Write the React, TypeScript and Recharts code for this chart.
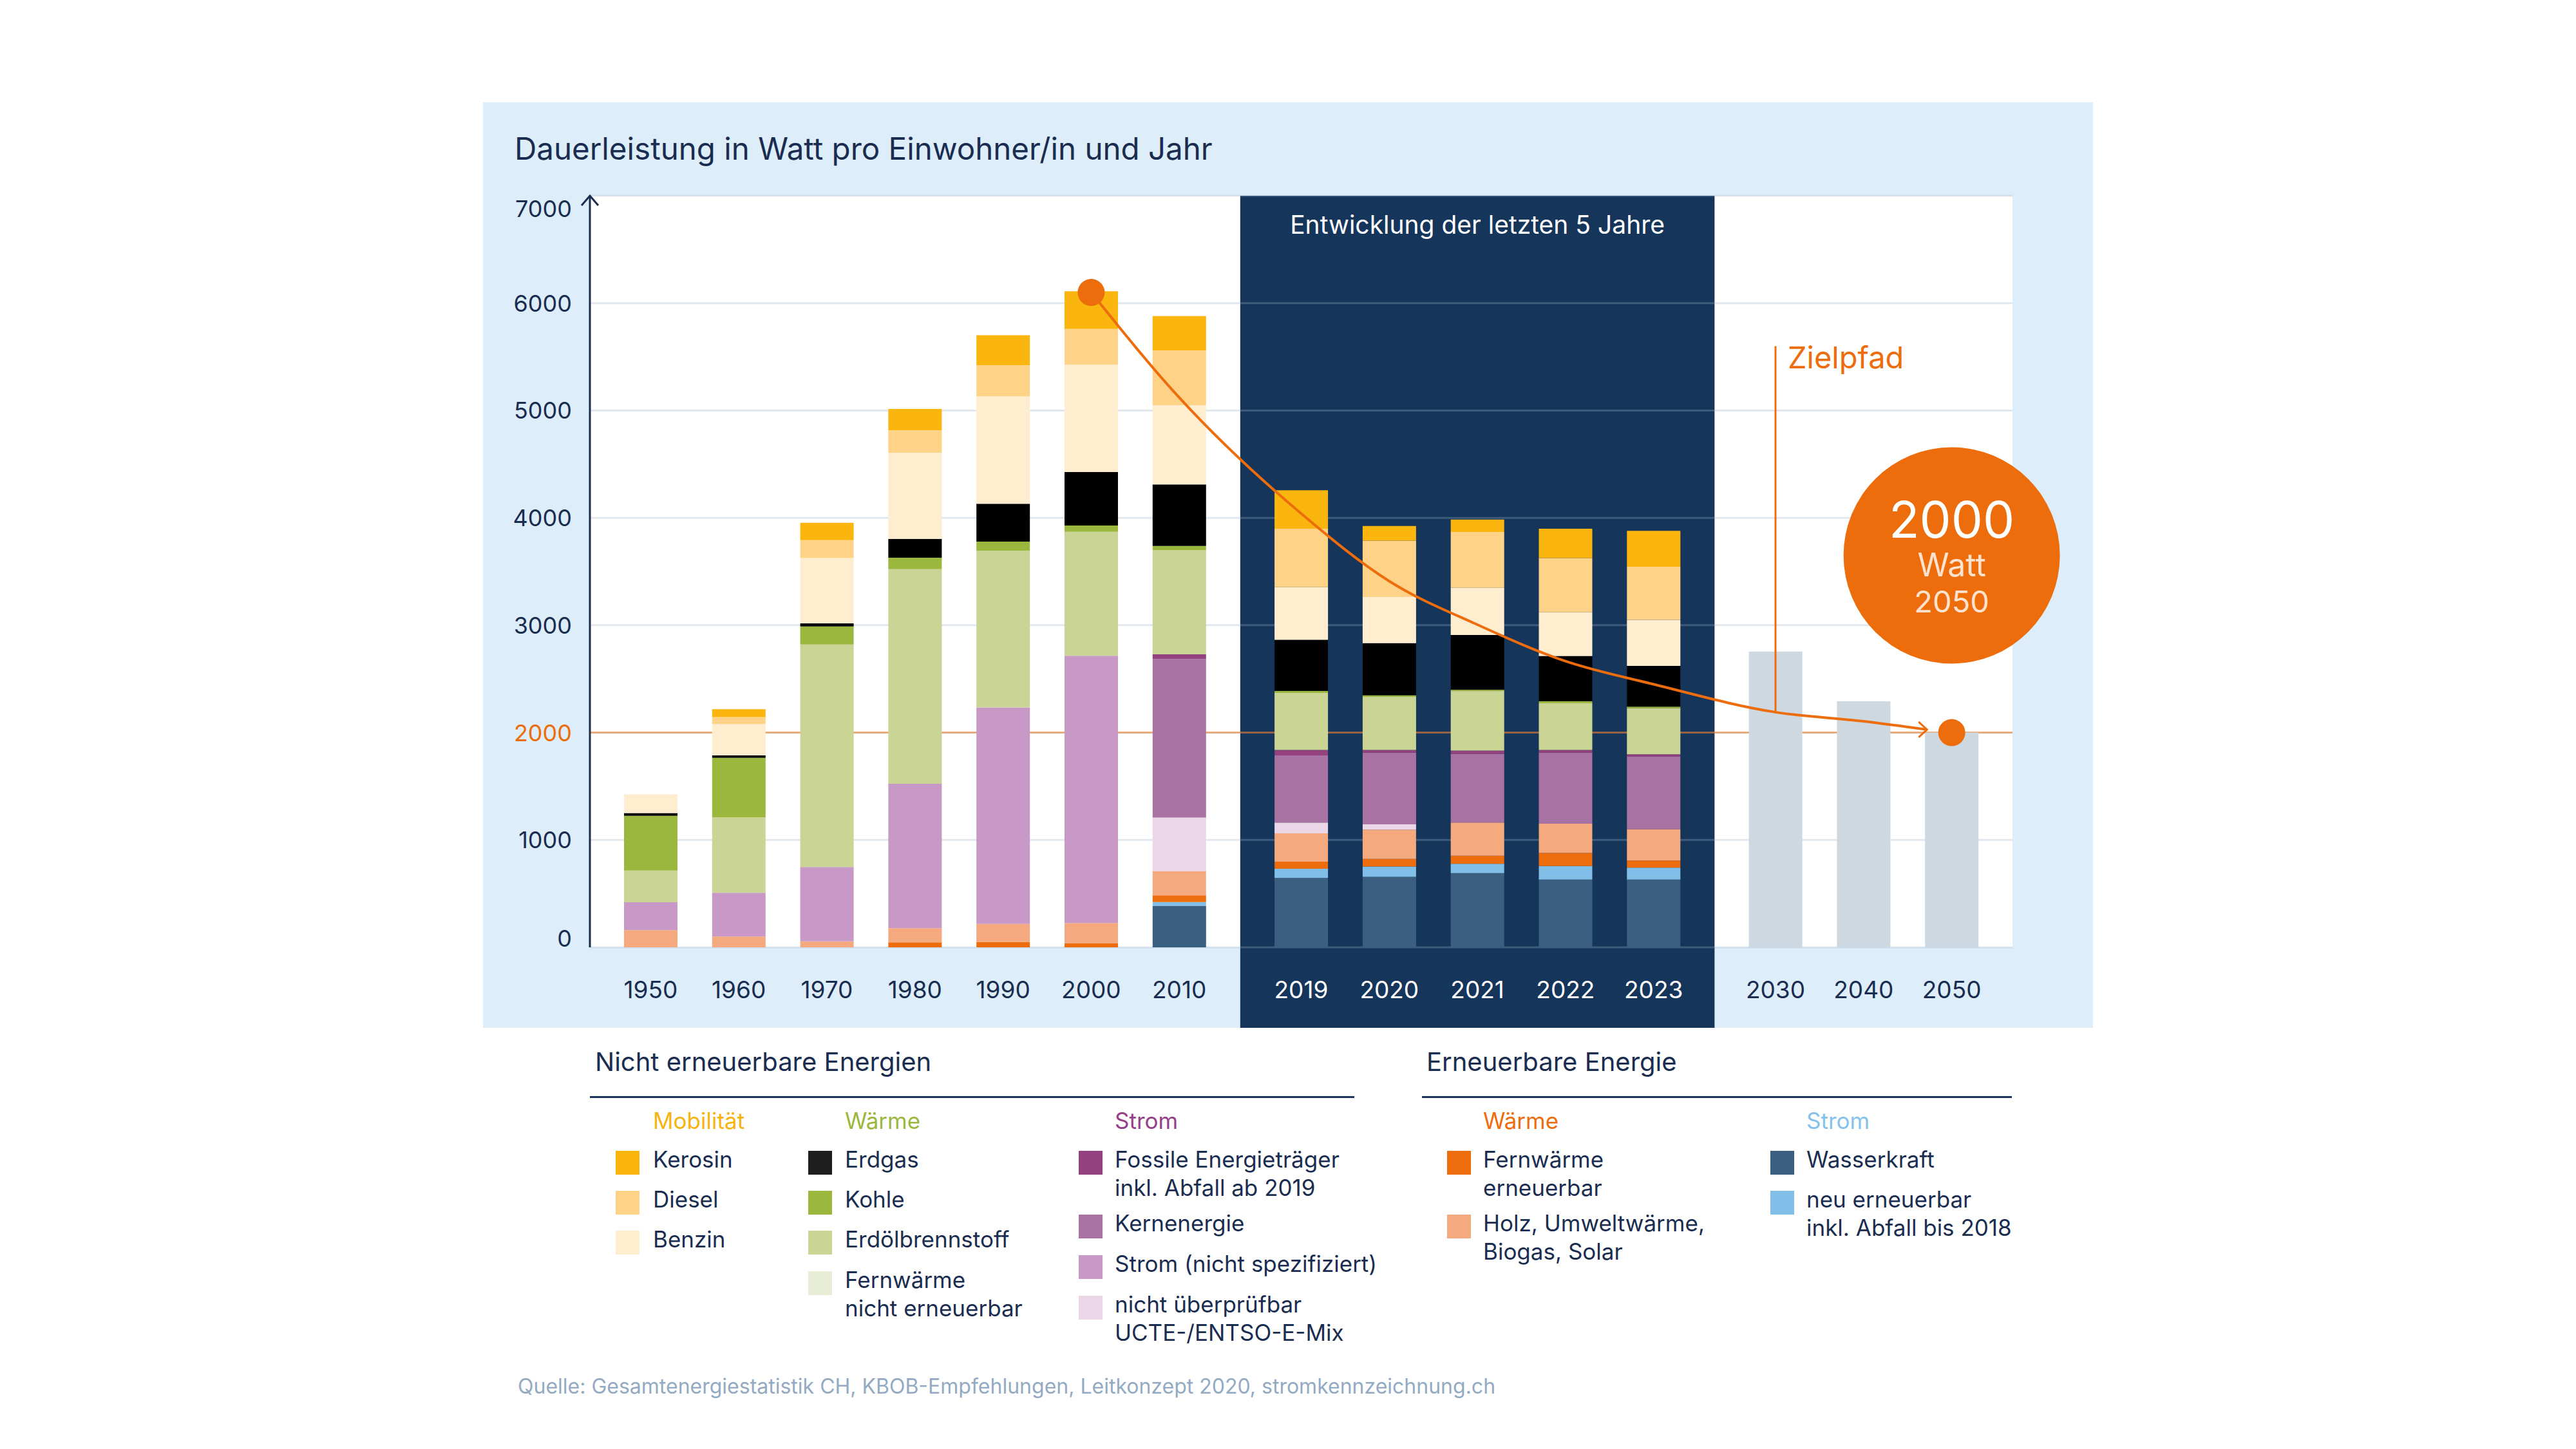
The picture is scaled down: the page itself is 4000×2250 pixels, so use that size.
import React from 'react';
import {
  ComposedChart,
  Bar,
  Line,
  XAxis,
  YAxis,
  CartesianGrid,
  ReferenceArea,
  ReferenceLine,
  ReferenceDot,
} from 'recharts';

// Kategorien (Jahre) und Werte in Watt pro Einwohner/in
const years = ['1950', '1960', '1970', '1980', '1990', '2000', '2010', '2019', '2020', '2021', '2022', '2023', '2030', '2040', '2050'];
const recentYears = ['2019', '2020', '2021', '2022', '2023'];

const wasserkraft = [0, 0, 0, 0, 0, 0, 387, 646, 657, 692, 631, 631];
const neuErneuerbar = [0, 0, 0, 0, 0, 0, 35, 86, 96, 86, 127, 111];
const fernwaermeErneuerbar = [0, 0, 0, 46, 49, 36, 62, 66, 70, 76, 121, 66];
const holz = [160, 100, 56, 132, 169, 191, 227, 263, 273, 308, 273, 293];
const nichtUeberpruefbar = [0, 0, 0, 0, 0, 0, 498, 101, 50, 0, 0, 0];
const stromNichtSpez = [260, 408, 693, 1346, 2017, 2489, 0, 0, 0, 0, 0, 0];
const kernenergie = [0, 0, 0, 0, 0, 0, 1475, 626, 667, 641, 661, 677];
const fossile = [0, 0, 0, 0, 0, 0, 45, 50, 25, 30, 25, 20];
const erdoel = [295, 704, 2072, 1998, 1460, 1155, 969, 531, 495, 556, 435, 429];
const kohle = [510, 553, 168, 107, 84, 58, 40, 20, 15, 10, 20, 15];
const erdgas = [25, 23, 28, 176, 353, 498, 573, 475, 485, 510, 419, 379];
const benzin = [175, 290, 609, 802, 1000, 1000, 738, 490, 430, 439, 409, 429];
const diesel = [0, 67, 167, 210, 290, 333, 511, 545, 525, 521, 505, 495];
const kerosin = [0, 73, 162, 198, 280, 351, 320, 359, 136, 116, 273, 334];
const zielwerte = [2754, 2291, 2000]; // 2030, 2040, 2050

const zielpfadYears = ['2000', '2010', '2019', '2020', '2021', '2022', '2023', '2030', '2040'];
const zielpfadValues = [6100, 5120, 4040, 3410, 3005, 2665, 2450, 2190, 2105];
const zielpfadEnd = 2028;
const zielpfadLabelTop = 5600;
const badgeLevel = 3650;

const yTicks = [0, 1000, 2000, 3000, 4000, 5000, 6000, 7000];

const NAVY = '#16355b';
const TEXT = '#1a2d50';
const ORANGE = '#ed6d0c';
const FONT = 'Inter, "Noto Sans", sans-serif';

const series = [
  { key: 'wasserkraft', name: 'Wasserkraft', color: '#3b5f80', values: wasserkraft },
  { key: 'neuErneuerbar', name: 'neu erneuerbar', color: '#82bfe8', values: neuErneuerbar },
  { key: 'fernwaermeErneuerbar', name: 'Fernwärme erneuerbar', color: '#ed6d0c', values: fernwaermeErneuerbar },
  { key: 'holz', name: 'Holz, Umweltwärme, Biogas, Solar', color: '#f5a97e', values: holz },
  { key: 'nichtUeberpruefbar', name: 'nicht überprüfbar', color: '#ebd6e7', values: nichtUeberpruefbar },
  { key: 'stromNichtSpez', name: 'Strom (nicht spezifiziert)', color: '#c899c6', values: stromNichtSpez },
  { key: 'kernenergie', name: 'Kernenergie', color: '#a873a3', values: kernenergie },
  { key: 'fossile', name: 'Fossile Energieträger', color: '#93417f', values: fossile },
  { key: 'erdoel', name: 'Erdölbrennstoff', color: '#cad495', values: erdoel },
  { key: 'kohle', name: 'Kohle', color: '#9bb73e', values: kohle },
  { key: 'erdgas', name: 'Erdgas', color: '#000000', values: erdgas },
  { key: 'benzin', name: 'Benzin', color: '#feedcf', values: benzin },
  { key: 'diesel', name: 'Diesel', color: '#fed388', values: diesel },
  { key: 'kerosin', name: 'Kerosin', color: '#fab50e', values: kerosin },
];
const colorOf = (key: string) => series.find((s) => s.key === key)?.color ?? '#e8eed5';

// x-Positionen: drei Gruppen mit etwas grösserem Abstand dazwischen
const GROUP_GAP = 0.384;
const groupOf = (i: number) => (i < 7 ? 0 : i < 12 ? 1 : 2);
const positions = years.map((_, i) => i + groupOf(i) * GROUP_GAP);
const posOf = (year: string) => positions[years.indexOf(year)];
const X_PAD = 0.69;
const xMin = positions[0] - X_PAD;
const xMax = positions[positions.length - 1] + X_PAD;
const panelX1 = (posOf('2010') + posOf('2019')) / 2;
const panelX2 = (posOf('2023') + posOf('2030')) / 2;
const ARROW_BACKOFF = 0.28;

const rows = years.map((year, i) => {
  const row: Record<string, any> = { pos: positions[i], year };
  series.forEach((s) => {
    row[s.key] = s.values[i] ?? 0;
  });
  row.ziel = i >= 12 ? zielwerte[i - 12] : 0;
  return row;
});

const zielpfadData = [
  ...zielpfadYears.map((y, i) => ({ pos: posOf(y), zielpfad: zielpfadValues[i] })),
  { pos: posOf('2050') - ARROW_BACKOFF, zielpfad: zielpfadEnd },
];

const CHART_W = 2500;
const CHART_H = 1437;
const AXIS_H = 125;

const XTick = ({ x, y, payload }: any) => {
  const idx = positions.findIndex((p) => Math.abs(p - payload.value) < 1e-6);
  const label = years[idx];
  const fill = recentYears.includes(label) ? '#ffffff' : TEXT;
  return (
    <text x={x} y={y + 79} textAnchor="middle" fontSize={37} fontFamily={FONT} fill={fill}>
      {label}
    </text>
  );
};

const YTick = ({ x, y, payload }: any) => {
  const v = payload.value;
  const dy = v === 7000 ? 33 : v === 0 ? -1 : 13;
  return (
    <text x={x - 28} y={y + dy} textAnchor="end" fontSize={36} fontFamily={FONT} fill={v === 2000 ? ORANGE : TEXT}>
      {v}
    </text>
  );
};

const NavyPanel = (p: any) => (
  <g>
    <rect x={p.x} y={p.y} width={p.width} height={p.height + AXIS_H} fill={NAVY} />
    <text x={p.x + p.width / 2} y={p.y + 59} textAnchor="middle" fontSize={39} fontFamily={FONT} fill="#ffffff">
      Entwicklung der letzten 5 Jahre
    </text>
  </g>
);

const AxisArrow = (p: any) => (
  <path d={`M${p.cx - 13},${p.cy + 15} L${p.cx},${p.cy} L${p.cx + 13},${p.cy + 15}`} stroke={TEXT} strokeWidth={3} fill="none" />
);

const ZielLabel = (p: any) => (
  <text x={p.cx + 19} y={p.cy + 35} fontSize={47} fontFamily={FONT} fill={ORANGE}>
    Zielpfad
  </text>
);

const Badge = (p: any) => (
  <g>
    <circle cx={p.cx} cy={p.cy} r={168} fill={ORANGE} />
    <text x={p.cx} y={p.cy - 27} textAnchor="middle" fontSize={78} fontFamily={FONT} fill="#ffffff">2000</text>
    <text x={p.cx} y={p.cy + 33} textAnchor="middle" fontSize={50} fontFamily={FONT} fill="#fde3cf">Watt</text>
    <text x={p.cx} y={p.cy + 89} textAnchor="middle" fontSize={47} fontFamily={FONT} fill="#fde3cf">2050</text>
  </g>
);

const EndDot = (p: any) => <circle cx={p.cx} cy={p.cy} r={21} fill={ORANGE} />;

const ZielpfadDot = (p: any) => {
  const last = zielpfadData.length - 1;
  if (p.index === 0) return <circle key="start" cx={p.cx} cy={p.cy} r={21} fill={ORANGE} />;
  if (p.index === last)
    return (
      <path
        key="arrow"
        d={`M${p.cx - 13},${p.cy - 12} L${p.cx},${p.cy} L${p.cx - 13},${p.cy + 12}`}
        stroke={ORANGE}
        strokeWidth={3}
        fill="none"
      />
    );
  return <g key={`d${p.index}`} />;
};

// Legende
const legendColumns = [
  {
    title: 'Mobilität', titleColor: '#f7b30f', squareX: 956, textX: 1014,
    items: [
      { key: 'kerosin', lines: ['Kerosin'], top: 1787 },
      { key: 'diesel', lines: ['Diesel'], top: 1849 },
      { key: 'benzin', lines: ['Benzin'], top: 1911 },
    ],
  },
  {
    title: 'Wärme', titleColor: '#9bb73e', squareX: 1255, textX: 1312,
    items: [
      { key: 'erdgas', lines: ['Erdgas'], top: 1787, color: '#1e1e1e' },
      { key: 'kohle', lines: ['Kohle'], top: 1849 },
      { key: 'erdoel', lines: ['Erdölbrennstoff'], top: 1911 },
      { key: 'fernwaermeNichtErneuerbar', lines: ['Fernwärme', 'nicht erneuerbar'], top: 1974, color: '#e8eed5' },
    ],
  },
  {
    title: 'Strom', titleColor: '#96408a', squareX: 1675, textX: 1731,
    items: [
      { key: 'fossile', lines: ['Fossile Energieträger', 'inkl. Abfall ab 2019'], top: 1787 },
      { key: 'kernenergie', lines: ['Kernenergie'], top: 1886 },
      { key: 'stromNichtSpez', lines: ['Strom (nicht spezifiziert)'], top: 1949 },
      { key: 'nichtUeberpruefbar', lines: ['nicht überprüfbar', 'UCTE-/ENTSO-E-Mix'], top: 2012 },
    ],
  },
  {
    title: 'Wärme', titleColor: ORANGE, squareX: 2247, textX: 2303,
    items: [
      { key: 'fernwaermeErneuerbar', lines: ['Fernwärme', 'erneuerbar'], top: 1787 },
      { key: 'holz', lines: ['Holz, Umweltwärme,', 'Biogas, Solar'], top: 1886 },
    ],
  },
  {
    title: 'Strom', titleColor: '#85c1ea', squareX: 2749, textX: 2805,
    items: [
      { key: 'wasserkraft', lines: ['Wasserkraft'], top: 1787 },
      { key: 'neuErneuerbar', lines: ['neu erneuerbar', 'inkl. Abfall bis 2018'], top: 1849 },
    ],
  },
];

function Frame() {
  return (
    <svg width={4000} height={2250} style={{ position: 'absolute', left: 0, top: 0 }}>
      <rect x={750} y={159} width={2500} height={1437} fill="#ddedf9" />
      <text x={799} y={248} fontSize={47.5} fontFamily={FONT} fill={TEXT}>
        Dauerleistung in Watt pro Einwohner/in und Jahr
      </text>

      <text x={924} y={1663} fontSize={40} fontFamily={FONT} fill={TEXT}>Nicht erneuerbare Energien</text>
      <rect x={916} y={1702} width={1187} height={3} fill="#1b355c" />
      <text x={2215} y={1663} fontSize={40} fontFamily={FONT} fill={TEXT}>Erneuerbare Energie</text>
      <rect x={2208} y={1702} width={916} height={3} fill="#1b355c" />

      {legendColumns.map((col, ci) => (
        <g key={ci}>
          <text x={col.textX} y={1753} fontSize={35} fontFamily={FONT} fill={col.titleColor}>{col.title}</text>
          {col.items.map((it) => (
            <g key={it.key}>
              <rect x={col.squareX} y={it.top} width={37} height={37} fill={(it as any).color ?? colorOf(it.key)} />
              <text x={col.textX} y={it.top + 26} fontSize={35} fontFamily={FONT} fill={TEXT}>
                {it.lines.map((ln, li) => (
                  <tspan key={li} x={col.textX} dy={li === 0 ? 0 : 44}>{ln}</tspan>
                ))}
              </text>
            </g>
          ))}
        </g>
      ))}

      <text x={804} y={2164} fontSize={32} fontFamily={FONT} fill="#93aac2">
        Quelle: Gesamtenergiestatistik CH, KBOB-Empfehlungen, Leitkonzept 2020, stromkennzeichnung.ch
      </text>
    </svg>
  );
}

export default function App() {
  return (
    <div style={{ position: 'absolute', left: 0, top: 0, width: 4000, height: 2250, background: '#ffffff', fontFamily: FONT }}>
      <Frame />
      <div style={{ position: 'absolute', left: 750, top: 159 }}>
        <ComposedChart width={CHART_W} height={CHART_H} data={rows} margin={{ top: 145, right: 125, bottom: 0, left: 0 }}>
          <ReferenceArea x1={xMin} x2={xMax} y1={0} y2={7000} fill="#ffffff" fillOpacity={1} ifOverflow="visible" zIndex={-300} />
          <ReferenceArea x1={panelX1} x2={panelX2} y1={0} y2={7000} shape={NavyPanel} ifOverflow="visible" zIndex={-200} />
          <CartesianGrid vertical={false} stroke="rgb(158,180,201)" strokeOpacity={0.3} strokeWidth={3} />
          <ReferenceLine y={2000} stroke={ORANGE} strokeOpacity={0.5} strokeWidth={3} zIndex={-50} />
          <XAxis
            type="number"
            dataKey="pos"
            domain={[xMin, xMax]}
            ticks={positions}
            interval={0}
            axisLine={false}
            tickLine={false}
            tickSize={0}
            tickMargin={0}
            height={AXIS_H}
            tick={<XTick />}
            allowDataOverflow
          />
          <XAxis xAxisId="pfad" type="number" dataKey="pos" domain={[xMin, xMax]} hide allowDataOverflow />
          <YAxis
            type="number"
            domain={[0, 7000]}
            ticks={yTicks}
            interval={0}
            width={166}
            axisLine={{ stroke: TEXT, strokeWidth: 3 }}
            tickLine={false}
            tickSize={0}
            tickMargin={0}
            tick={<YTick />}
          />
          {series.map((s) => (
            <Bar key={s.key} dataKey={s.key} name={s.name} stackId="a" fill={s.color} barSize={83} isAnimationActive={false} />
          ))}
          <Bar dataKey="ziel" name="Ziel" stackId="a" fill="#cdd8e1" barSize={83} isAnimationActive={false} />
          <ReferenceLine
            segment={[
              { x: posOf('2030'), y: zielpfadValues[zielpfadYears.indexOf('2030')] },
              { x: posOf('2030'), y: zielpfadLabelTop },
            ]}
            stroke={ORANGE}
            strokeWidth={3}
            zIndex={350}
          />
          <Line
            xAxisId="pfad"
            data={zielpfadData}
            dataKey="zielpfad"
            type="monotone"
            stroke={ORANGE}
            strokeWidth={4}
            dot={ZielpfadDot}
            activeDot={false}
            isAnimationActive={false}
          />
          <ReferenceDot x={xMin} y={7000} r={1} shape={AxisArrow} ifOverflow="visible" />
          <ReferenceDot x={posOf('2030')} y={zielpfadLabelTop} r={1} shape={ZielLabel} ifOverflow="visible" />
          <ReferenceDot x={posOf('2050')} y={badgeLevel} r={168} shape={Badge} ifOverflow="visible" />
          <ReferenceDot x={posOf('2050')} y={2000} r={21} shape={EndDot} ifOverflow="visible" />
        </ComposedChart>
      </div>
    </div>
  );
}
